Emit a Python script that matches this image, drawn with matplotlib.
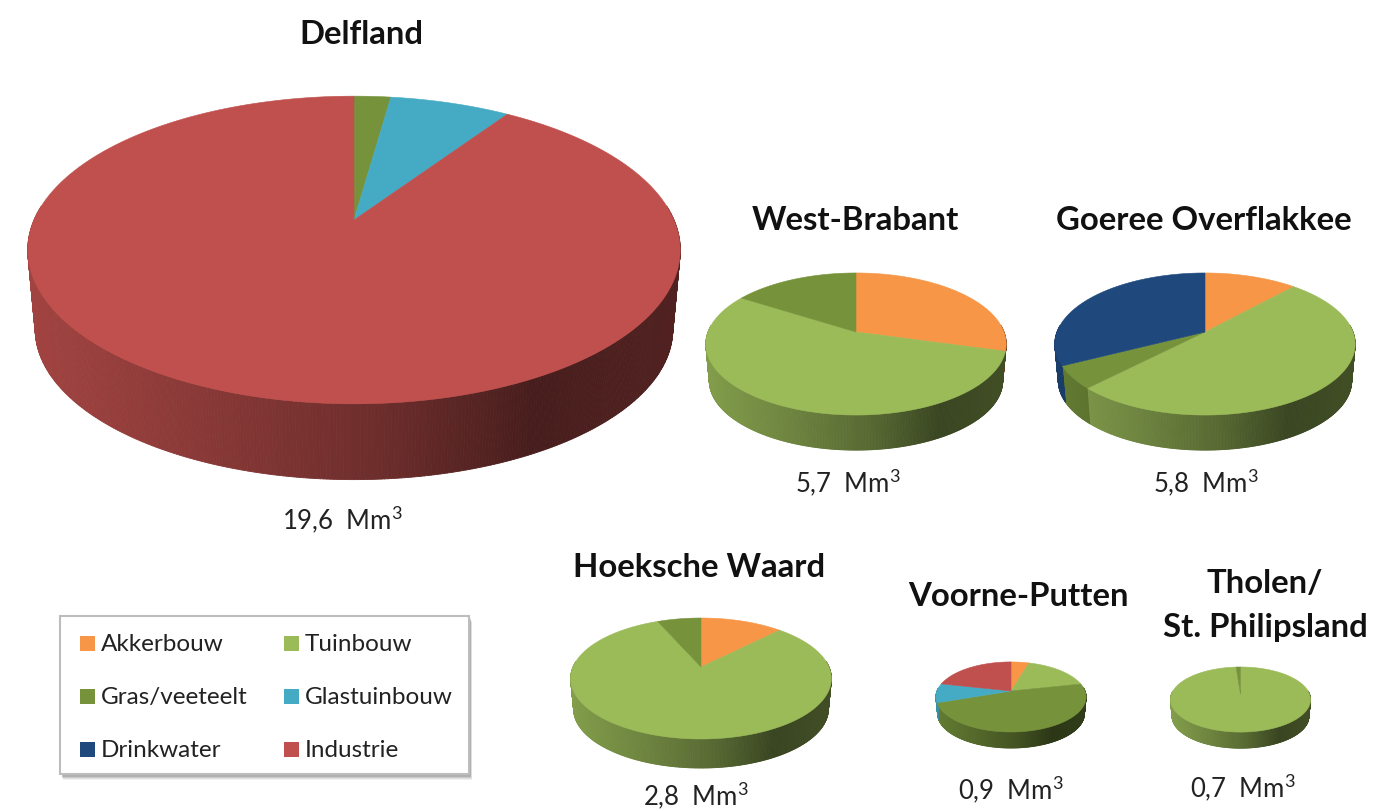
import numpy as np
import matplotlib
matplotlib.use('Agg')
import matplotlib.pyplot as plt
from matplotlib.collections import PolyCollection
from matplotlib.patches import Polygon, Rectangle

plt.rcParams['font.family'] = ['Lato', 'DejaVu Sans']
plt.rcParams['mathtext.fontset'] = 'custom'
plt.rcParams['mathtext.rm'] = 'Lato'
plt.rcParams['mathtext.default'] = 'rm'

# categories, in drawing order from twelve o'clock clockwise
categories = ['Akkerbouw', 'Tuinbouw', 'Gras/veeteelt', 'Glastuinbouw', 'Drinkwater', 'Industrie']

# shares in percent, per region, same order as categories
delfland = [0, 0, 2.2, 7.2, 0, 90.6]
west_brabant = [29.3, 54.7, 16.0, 0, 0, 0]
goeree = [11.8, 50.5, 5.2, 0, 32.5, 0]
hoeksche = [12.3, 81.2, 6.5, 0, 0, 0]
voorne = [4.6, 17.0, 48.1, 8.8, 0, 21.5]
tholen = [0, 98.8, 1.2, 0, 0, 0]

volumes = ['19,6', '5,7', '5,8', '2,8', '0,9', '0,7']

COLORS = ['#F79646', '#9BBB59', '#76933C', '#45ABC4', '#1F497D', '#C0504D']


def rim(theta, g, drop=0.0, scale=1.0):
    # circle point -> picture, the apex is not the middle of the ellipse (perspective)
    v = np.cos(theta)
    w = 1 + g['k'] * v
    x = g['cx'] + scale * g['rx'] * np.sin(theta) / w
    y = g['ay'] + drop - scale * g['ry'] * v / w
    return x, y


def draw_pie(ax, shares, g):
    shares = np.array(shares, dtype=float)
    edges = np.cumsum(np.concatenate([[0], shares])) / shares.sum() * 2 * np.pi
    half = g['rx'] / np.sqrt(1 - g['k'] ** 2)

    # side wall first, the top goes over it
    polys, cols = [], []
    steps = np.radians(np.arange(0, 360, 0.5))
    d = steps[1] - steps[0]
    for th in steps:
        if np.cos(th + d / 2) > 0.1:
            continue
        x0, y0 = rim(th, g)
        x1, y1 = rim(th + d, g)
        x2, y2 = rim(th + d, g, g['depth'], 0.977)
        x3, y3 = rim(th, g, g['depth'], 0.977)
        polys.append([(x0, y0), (x1, y1), (x2, y2), (x3, y3)])
        idx = np.searchsorted(edges, th + d / 2) - 1
        t = (x0 - (g['cx'] - half)) / (2 * half)
        f = np.interp(t, [0, 0.25, 0.55, 0.78, 1], [0.84, 0.72, 0.56, 0.37, 0.42])
        cols.append(np.array(matplotlib.colors.to_rgb(COLORS[idx])) * f)
    ax.add_collection(PolyCollection(polys, facecolors=cols, edgecolors=cols, linewidths=0.6))

    for i, s in enumerate(shares):
        if s == 0:
            continue
        th = np.linspace(edges[i], edges[i + 1], 200)
        x, y = rim(th, g)
        pts = np.column_stack([np.r_[g['cx'], x], np.r_[g['ay'], y]])
        ax.add_patch(Polygon(pts, closed=True, facecolor=COLORS[i], edgecolor=COLORS[i], linewidth=0.4))


fig = plt.figure(figsize=(13.74, 8.12), dpi=100)
ax = fig.add_axes([0, 0, 1, 1])
ax.set_xlim(0, 1374)
ax.set_ylim(812, 0)
ax.axis('off')

draw_pie(ax, delfland, dict(cx=354, ay=221, rx=320, ry=148, k=0.195, depth=80))
draw_pie(ax, west_brabant, dict(cx=856, ay=333, rx=148, ry=69, k=0.169, depth=37))
draw_pie(ax, goeree, dict(cx=1205, ay=333, rx=148, ry=69, k=0.169, depth=37))
draw_pie(ax, hoeksche, dict(cx=701, ay=668, rx=128, ry=58.3, k=0.19, depth=30.7))
draw_pie(ax, voorne, dict(cx=1011, ay=692, rx=74, ry=34, k=0.17, depth=17))
draw_pie(ax, tholen, dict(cx=1240.5, ay=695, rx=69, ry=31.6, k=0.17, depth=17))

title_kw = dict(ha='center', va='center', fontsize=23.7, fontweight='bold', color='#111111')
ax.text(361, 35, 'Delfland', **title_kw)
ax.text(855, 221, 'West-Brabant', **title_kw)
ax.text(1204, 221, 'Goeree Overflakkee', **title_kw)
ax.text(699, 568, 'Hoeksche Waard', **title_kw)
ax.text(1018, 597, 'Voorne-Putten', **title_kw)
ax.text(1265, 584, 'Tholen/', **title_kw)
ax.text(1265, 628, 'St. Philipsland', **title_kw)

vol_kw = dict(ha='center', va='center', fontsize=18.5, color='#222222')
vol_pos = [(342, 520), (848, 483), (1206, 483), (696, 796), (1011, 790), (1243, 788)]
for (x, y), vol in zip(vol_pos, volumes):
    ax.text(x, y, vol + '  Mm$^3$', **vol_kw)

# legend box with soft shadow
for off, a in [(6, 0.10), (5, 0.14), (4, 0.2), (3, 0.3)]:
    ax.add_patch(Rectangle((60 + off / 2, 617 + off), 409, 158, facecolor='#777777', edgecolor='none', alpha=a))
ax.add_patch(Rectangle((60, 617), 409, 158, facecolor='white', edgecolor='#bdbdbd', linewidth=1.5))
for i, name in enumerate(categories):
    col = i % 2
    row = i // 2
    x = 80 + col * 204
    y = 644 + row * 53
    ax.add_patch(Rectangle((x, y - 7.5), 15, 15, facecolor=COLORS[i], edgecolor='none'))
    ax.text(x + 21, y + 1, name, ha='left', va='center', fontsize=17.5, color='#222222')

fig.savefig('out.png', dpi=100)
